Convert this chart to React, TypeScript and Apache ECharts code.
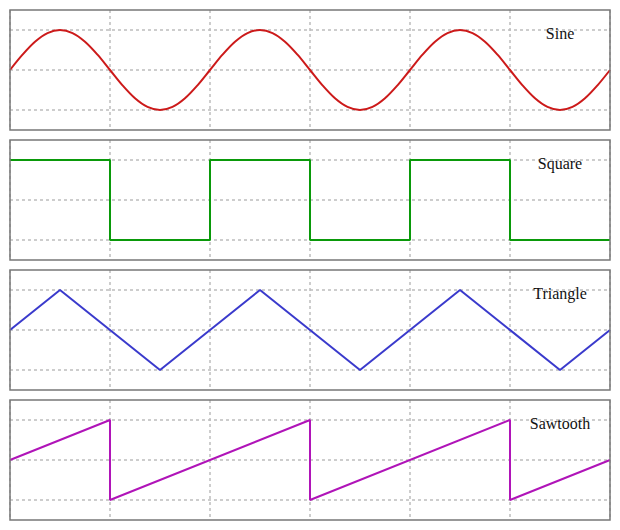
import React, { useEffect, useRef } from "react";
import * as echarts from "echarts";

const panelTitles = ["Sine", "Square", "Triangle", "Sawtooth"];
const panelColors = ["#cc1a1a", "#0a990a", "#3a3acc", "#b014b8"];

// Sine sampled every 0.125 x-units (period 2)
const sineValues = [
  0, 0.383, 0.707, 0.924, 1, 0.924, 0.707, 0.383, 0, -0.383, -0.707, -0.924, -1, -0.924, -0.707, -0.383,
  0, 0.383, 0.707, 0.924, 1, 0.924, 0.707, 0.383, 0, -0.383, -0.707, -0.924, -1, -0.924, -0.707, -0.383,
  0, 0.383, 0.707, 0.924, 1, 0.924, 0.707, 0.383, 0, -0.383, -0.707, -0.924, -1, -0.924, -0.707, -0.383,
  0,
];
const sineStep = 0.125;

const squareX = [0, 1, 1, 2, 2, 3, 3, 4, 4, 5, 5, 6];
const squareY = [1, 1, -1, -1, 1, 1, -1, -1, 1, 1, -1, -1];

const triangleX = [0, 0.5, 1.5, 2.5, 3.5, 4.5, 5.5, 6];
const triangleY = [0, 1, -1, 1, -1, 1, -1, 0];

const sawX = [0, 1, 1, 3, 3, 5, 5, 6];
const sawY = [0, 1, -1, 1, -1, 1, -1, 0];

const hLines = [-1, 0, 1];

export default function App() {
  const ref = useRef<HTMLDivElement>(null);
  useEffect(() => {
    if (!ref.current) return;
    const chart = echarts.init(ref.current, null, { renderer: "svg" });
    const datasets: number[][][] = [
      sineValues.map((v, i) => [i * sineStep, v]),
      squareX.map((x, i) => [x, squareY[i]]),
      triangleX.map((x, i) => [x, triangleY[i]]),
      sawX.map((x, i) => [x, sawY[i]]),
    ];
    const grids: any[] = [];
    const xAxes: any[] = [];
    const yAxes: any[] = [];
    const series: any[] = [];
    const graphics: any[] = [];
    const dash = { color: "#bdbdbd", width: 1.5, type: [3, 3] };
    for (let p = 0; p < 4; p++) {
      const top = 10 + p * 130;
      grids.push({
        left: 10,
        top,
        width: 600,
        height: 120,
        show: true,
        borderColor: "#777",
        borderWidth: 1.5,
        backgroundColor: "transparent",
        z: 5,
      });
      xAxes.push({
        type: "value",
        gridIndex: p,
        min: 0,
        max: 6,
        interval: 1,
        axisLine: { show: false },
        axisTick: { show: false },
        axisLabel: { show: false },
        splitLine: { show: true, lineStyle: dash },
      });
      yAxes.push({
        type: "value",
        gridIndex: p,
        min: -1.5,
        max: 1.5,
        axisLine: { show: false },
        axisTick: { show: false },
        axisLabel: { show: false },
        splitLine: { show: false },
      });
      series.push({
        type: "line",
        xAxisIndex: p,
        yAxisIndex: p,
        data: [],
        z: 1,
        silent: true,
        markLine: {
          silent: true,
          z: 1,
          symbol: "none",
          label: { show: false },
          lineStyle: dash,
          emphasis: { disabled: true },
          data: hLines.map((v) => ({ yAxis: v })),
        },
      });
      series.push({
        type: "line",
        xAxisIndex: p,
        yAxisIndex: p,
        data: datasets[p],
        showSymbol: false,
        smooth: p === 0 ? 0.33 : false,
        z: 3,
        lineStyle: { color: panelColors[p], width: 2 },
        itemStyle: { color: panelColors[p] },
      });
      graphics.push({
        type: "text",
        x: 560,
        y: top + 23,
        style: {
          text: panelTitles[p],
          fill: "#111",
          font: "16px 'Liberation Serif', serif",
          textAlign: "center",
          textVerticalAlign: "middle",
        },
        z: 10,
      });
    }
    chart.setOption({
      animation: false,
      backgroundColor: "#fff",
      grid: grids,
      xAxis: xAxes,
      yAxis: yAxes,
      series,
      graphic: graphics,
    });
    return () => chart.dispose();
  }, []);
  return (
    <div
      ref={ref}
      style={{ position: "absolute", left: 0, top: 0, width: 620, height: 530 }}
    />
  );
}
